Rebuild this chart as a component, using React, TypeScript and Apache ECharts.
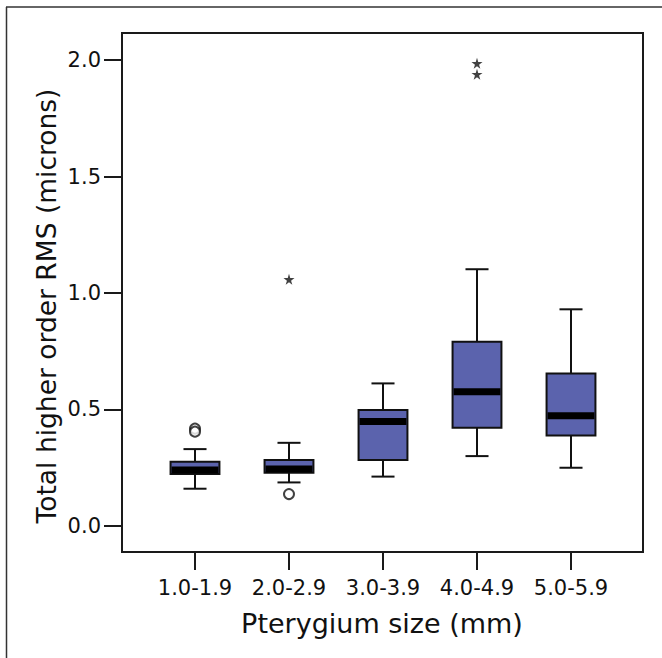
import React, { useEffect, useRef } from "react";
import * as echarts from "echarts";

const categories = ["1.0-1.9", "2.0-2.9", "3.0-3.9", "4.0-4.9", "5.0-5.9"];
const whiskerLow = [0.16, 0.187, 0.212, 0.3, 0.25];
const quartile1 = [0.223, 0.229, 0.283, 0.422, 0.388];
const medians = [0.24, 0.245, 0.448, 0.576, 0.473];
const quartile3 = [0.276, 0.283, 0.498, 0.791, 0.655];
const whiskerHigh = [0.33, 0.357, 0.612, 1.102, 0.93];
const circleOutliers: [number, number][] = [
  [0, 0.418],
  [0, 0.405],
  [1, 0.137],
];
const starOutliers: [number, number][] = [
  [1, 1.059],
  [3, 1.986],
  [3, 1.939],
];
const yTicks = [0, 0.5, 1.0, 1.5, 2.0];

const FONT = "DejaVu Sans";
const STAR =
  "path://M50,0 L61,35 L98,35 L68,57 L79,91 L50,70 L21,91 L32,57 L2,35 L39,35 Z";

export default function App() {
  const ref = useRef<HTMLDivElement>(null);
  useEffect(() => {
    if (!ref.current) return;
    const chart = echarts.init(ref.current, null, { renderer: "svg" });
    const boxData = categories.map((_, i) => [
      i,
      whiskerLow[i],
      quartile1[i],
      medians[i],
      quartile3[i],
      whiskerHigh[i],
    ]);
    const ink = "#1a1a1a";
    chart.setOption({
      animation: false,
      backgroundColor: "#ffffff",
      grid: { left: 148, width: 470, top: 33, bottom: 106 },
      xAxis: {
        type: "category",
        data: categories,
        boundaryGap: true,
        axisLine: { show: false, onZero: false },
        axisTick: {
          show: true,
          alignWithLabel: true,
          length: 18,
          lineStyle: { color: ink, width: 2 },
        },
        axisLabel: {
          interval: 0,
          margin: 25,
          fontSize: 21,
          fontFamily: FONT,
          color: "#111",
        },
        splitLine: { show: false },
      },
      yAxis: {
        type: "value",
        min: -0.1116,
        max: 2.1159,
        offset: 26,
        axisLine: { show: true, lineStyle: { color: ink, width: 2 } },
        axisTick: {
          show: true,
          length: 18,
          lineStyle: { color: ink, width: 2 },
          customValues: yTicks,
        },
        axisLabel: {
          customValues: yTicks,
          formatter: (v: number) => v.toFixed(1),
          margin: 21,
          fontSize: 21,
          fontFamily: FONT,
          color: "#111",
        },
        splitLine: { show: false },
      },
      series: [
        {
          type: "custom",
          data: boxData,
          encode: { x: 0, y: [1, 2, 3, 4, 5] },
          renderItem: (params: any, api: any) => {
            const i = api.value(0);
            const pLo = api.coord([i, api.value(1)]);
            const pA = api.coord([i, api.value(2)]);
            const pM = api.coord([i, api.value(3)]);
            const pB = api.coord([i, api.value(4)]);
            const pHi = api.coord([i, api.value(5)]);
            const band = api.size([1, 0])[0];
            const bw = band * 0.52;
            const cw = band * 0.245;
            const x = pLo[0];
            const ls = { stroke: "#111", lineWidth: 2 };
            return {
              type: "group",
              children: [
                { type: "line", shape: { x1: x, y1: pHi[1], x2: x, y2: pB[1] }, style: ls },
                { type: "line", shape: { x1: x, y1: pA[1], x2: x, y2: pLo[1] }, style: ls },
                { type: "line", shape: { x1: x - cw / 2, y1: pHi[1], x2: x + cw / 2, y2: pHi[1] }, style: ls },
                { type: "line", shape: { x1: x - cw / 2, y1: pLo[1], x2: x + cw / 2, y2: pLo[1] }, style: ls },
                {
                  type: "rect",
                  shape: { x: x - bw / 2, y: pB[1], width: bw, height: pA[1] - pB[1] },
                  style: { fill: "#5b63ad", stroke: "#111", lineWidth: 2 },
                },
                {
                  type: "line",
                  shape: { x1: x - bw / 2 + 1, y1: pM[1], x2: x + bw / 2 - 1, y2: pM[1] },
                  style: { stroke: "#000", lineWidth: 7 },
                },
              ],
            };
          },
          z: 2,
        },
        {
          type: "scatter",
          data: circleOutliers,
          symbol: "emptyCircle",
          symbolSize: 10,
          itemStyle: { color: "#111", borderColor: "#111", borderWidth: 2 },
          z: 3,
        },
        {
          type: "scatter",
          data: starOutliers,
          symbol: STAR,
          symbolSize: 11,
          itemStyle: { color: "#111" },
          z: 3,
        },
      ],
      graphic: [
        {
          type: "rect",
          shape: { x: 122, y: 33, width: 521, height: 519 },
          style: { fill: "none", stroke: ink, lineWidth: 2 },
          z: 10,
        },
        {
          type: "line",
          shape: { x1: 6.5, y1: 7, x2: 6.5, y2: 660 },
          style: { stroke: "#333", lineWidth: 1.5 },
        },
        {
          type: "line",
          shape: { x1: 6, y1: 7, x2: 662, y2: 7 },
          style: { stroke: "#333", lineWidth: 1.5 },
        },
        {
          type: "text",
          x: 382,
          y: 623,
          style: {
            text: "Pterygium size (mm)",
            fontSize: 27,
            fontFamily: FONT,
            fill: "#111",
            textAlign: "center",
            textVerticalAlign: "middle",
          },
        },
        {
          type: "text",
          x: 46,
          y: 306,
          rotation: Math.PI / 2,
          style: {
            text: "Total higher order RMS (microns)",
            fontSize: 26.5,
            fontFamily: FONT,
            fill: "#111",
            textAlign: "center",
            textVerticalAlign: "middle",
          },
        },
      ],
    });
    return () => chart.dispose();
  }, []);
  return (
    <div
      ref={ref}
      style={{ position: "fixed", left: 0, top: 0, width: 662, height: 658, background: "#fff" }}
    />
  );
}
